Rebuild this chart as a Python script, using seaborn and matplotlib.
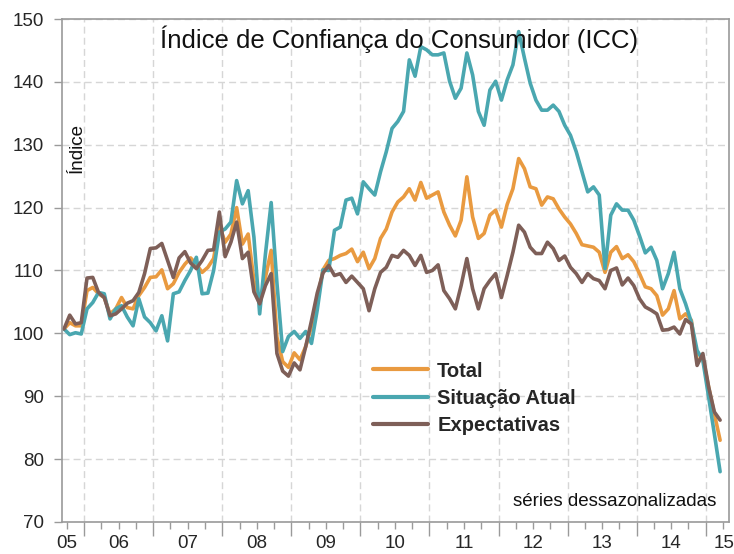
import matplotlib
matplotlib.use('Agg')
import numpy as np
import pandas as pd
import seaborn as sns
from matplotlib import pyplot as plt
from matplotlib.ticker import MultipleLocator, NullFormatter

# Índice de Confiança do Consumidor (FGV), séries dessazonalizadas, set/2005 a mar/2015
inicio = '2005-09'

total = [100.7, 101.7, 101.2, 101.2, 106.8, 107.3, 106.3, 105.7, 103.1, 103.9,
         105.7, 104.1, 103.9, 106.0, 107.3, 108.9, 109.0, 110.1, 107.1, 107.9,
         109.7, 111.0, 112.0, 111.0, 109.7, 110.5, 111.9, 117.1, 114.5, 115.8,
         120.0, 114.2, 115.8, 108.4, 105.0, 108.9, 113.2, 99.4, 95.5, 94.6,
         96.9, 95.8, 97.9, 101.1, 105.3, 110.1, 111.6, 111.9, 112.4, 112.7,
         113.4, 111.4, 112.9, 110.3, 111.9, 115.1, 116.6, 119.3, 120.9, 121.7,
         123.0, 121.2, 124.0, 121.5, 122.0, 122.5, 119.3, 117.2, 115.5, 118.0,
         124.9, 118.5, 115.1, 115.9, 118.8, 119.6, 116.9, 120.5, 123.0, 127.8,
         126.2, 123.3, 123.0, 120.4, 121.7, 121.4, 119.8, 118.5, 117.4, 115.9,
         114.1, 113.9, 113.7, 112.9, 109.7, 112.9, 113.8, 111.9, 112.5, 111.4,
         109.5, 107.4, 107.1, 106.0, 102.9, 103.9, 106.8, 102.3, 103.1, 102.1,
         95.7, 96.0, 91.5, 87.2, 83.0]

situacao_atual = [100.7, 99.8, 100.1, 99.9, 103.9, 104.9, 106.5, 106.3, 102.3, 103.9,
                  104.4, 102.6, 101.2, 105.5, 102.6, 101.7, 100.4, 102.8, 98.8, 106.3,
                  106.6, 108.4, 110.0, 112.1, 106.3, 106.4, 110.0, 116.1, 116.6, 117.7,
                  124.3, 120.6, 122.7, 115.3, 103.1, 112.6, 120.8, 108.0, 97.1, 99.5,
                  100.3, 99.2, 100.3, 98.4, 103.7, 110.1, 110.0, 116.4, 116.9, 121.2,
                  121.5, 119.0, 124.1, 123.0, 122.0, 125.7, 128.9, 132.6, 133.7, 135.3,
                  143.5, 140.9, 145.6, 145.1, 144.3, 144.3, 144.6, 140.1, 137.4, 139.0,
                  144.6, 141.1, 135.3, 133.1, 138.7, 140.1, 137.1, 140.3, 142.7, 148.0,
                  143.8, 139.8, 137.1, 135.5, 135.5, 136.3, 135.3, 133.1, 131.5, 128.9,
                  125.7, 122.5, 123.3, 122.0, 110.3, 118.8, 120.6, 119.6, 119.6, 118.0,
                  115.5, 112.8, 113.7, 111.6, 107.1, 109.5, 112.9, 107.1, 104.7, 101.8,
                  97.3, 95.7, 89.9, 84.0, 78.0]

expectativas = [100.7, 102.9, 101.5, 101.7, 108.8, 108.9, 106.5, 105.7, 102.8, 103.1,
                103.9, 104.8, 105.2, 106.5, 109.5, 113.5, 113.6, 114.3, 111.6, 108.9,
                112.0, 113.0, 111.2, 110.3, 111.6, 113.2, 113.3, 119.3, 112.2, 114.5,
                117.7, 111.9, 112.9, 106.6, 104.7, 107.6, 109.5, 96.8, 94.0, 93.2,
                95.3, 94.2, 97.9, 102.0, 106.4, 109.6, 110.8, 109.2, 109.5, 108.1,
                109.1, 108.1, 107.1, 103.6, 107.1, 109.7, 110.5, 112.4, 112.1, 113.2,
                112.4, 110.8, 112.4, 109.7, 110.0, 110.9, 106.8, 105.5, 103.9, 107.6,
                111.9, 107.1, 103.9, 107.1, 108.4, 109.5, 105.7, 109.2, 112.9, 117.2,
                116.1, 113.7, 112.7, 112.7, 114.5, 113.5, 111.6, 112.3, 110.5, 109.5,
                108.1, 109.5, 108.7, 108.4, 107.1, 110.0, 110.4, 107.7, 108.8, 107.6,
                105.5, 104.2, 103.7, 103.1, 100.5, 100.6, 101.0, 99.9, 102.2, 101.5,
                94.9, 96.8, 91.5, 87.5, 86.2]

series = ['Total', 'Situação Atual', 'Expectativas']
cores = ['#E99A40', '#4AA7B0', '#7E5F58']
rotulos_anos = ['05', '06', '07', '08', '09', '10', '11', '12', '13', '14', '15']

datas = pd.date_range(inicio, periods=len(total), freq='MS')
ano = datas.year + (datas.month - 0.5) / 12.0

df = pd.DataFrame({'ano': ano, 'Total': total, 'Situação Atual': situacao_atual,
                   'Expectativas': expectativas})
df_long = df.melt(id_vars='ano', var_name='serie', value_name='valor')

sns.set_style('white')
plt.rcParams['font.family'] = ['Liberation Sans', 'DejaVu Sans']

fig = plt.figure(figsize=(7.34, 5.54), dpi=100)
ax = fig.add_axes([0.0845, 0.0578, 0.9085, 0.9079])

sns.lineplot(data=df_long, x='ano', y='valor', hue='serie', hue_order=series,
             palette=cores, linewidth=2.6, ax=ax)

ax.set_xlim(2005.68, 2015.335)
ax.set_ylim(70, 150)
ax.yaxis.set_major_locator(MultipleLocator(10))
ax.xaxis.set_major_locator(MultipleLocator(1))
ax.xaxis.set_major_formatter(NullFormatter())
ax.xaxis.set_minor_locator(MultipleLocator(0.25))

grade = '#d6d6d6'
ax.grid(True, which='major', color=grade, linestyle=(0, (5, 3)), linewidth=1)
for s in ax.spines.values():
    s.set_color('#9a9a9a')
    s.set_linewidth(1.2)

ax.tick_params(axis='y', which='major', direction='out', length=6, width=1,
               color='#9a9a9a', labelsize=13.5, pad=7, left=True)
ax.tick_params(axis='x', which='major', direction='out', length=10, width=1,
               color='#9a9a9a', bottom=True)
ax.tick_params(axis='x', which='minor', direction='out', length=5, width=1,
               color='#9a9a9a', bottom=True)
ax.set_xlabel('')
ax.set_ylabel('')

# year labels on a secondary axis, centered in each year
pos_rotulos = [2005.75] + [int('20' + r) + 0.5 for r in rotulos_anos[1:-1]] + [2015.27]
secax = ax.secondary_xaxis('bottom')
secax.set_xticks(pos_rotulos, rotulos_anos)
secax.tick_params(length=0, labelsize=13.5, pad=9.5)
secax.spines['bottom'].set_visible(False)

ax.text(0.505, 0.942, 'Índice de Confiança do Consumidor (ICC)', transform=ax.transAxes,
        ha='center', va='baseline', fontsize=18.5, color='#111111')
ax.text(0.0225, 0.744, 'Índice', transform=ax.transAxes, rotation=90,
        ha='center', va='center', fontsize=13.5, color='#111111')
ax.text(0.982, 0.032, 'séries dessazonalizadas', transform=ax.transAxes,
        ha='right', va='baseline', fontsize=13.5, color='#111111')

leg = ax.legend(loc='upper left', bbox_to_anchor=(0.466, 0.319), frameon=False,
                borderpad=0, borderaxespad=0, handlelength=2.75, handletextpad=0.45,
                labelspacing=0.41, prop={'weight': 'bold', 'size': 14.5})
for h in leg.get_lines():
    h.set_linewidth(3)

fig.savefig('out.png', dpi=100)
